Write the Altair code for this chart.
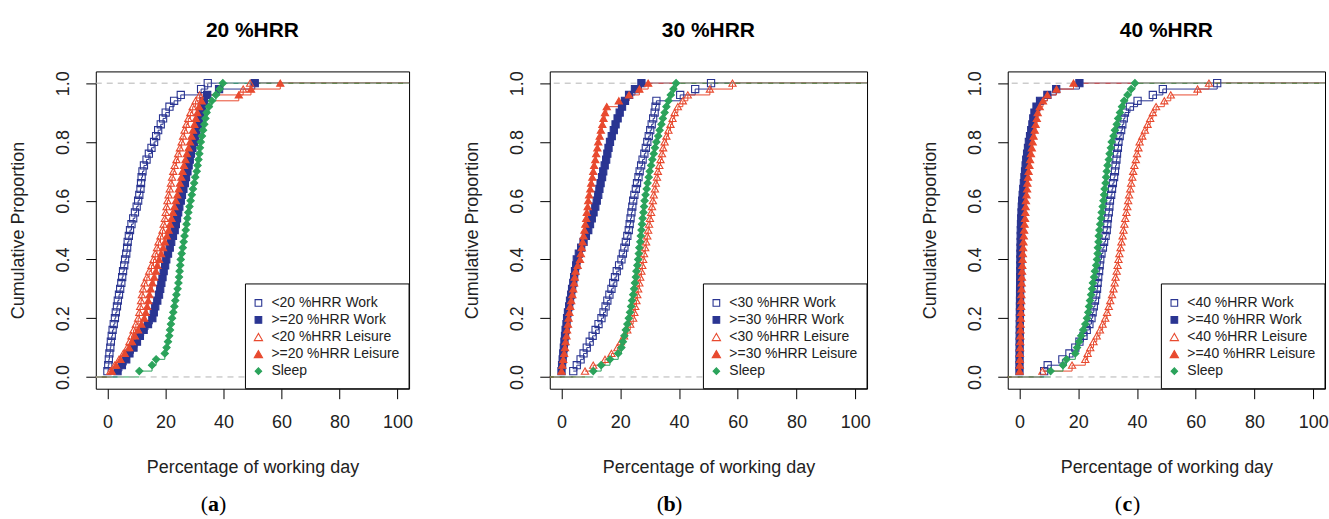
import altair as alt
import pandas as pd

# ---------------- data (percent of working day) ----------------
# Panel (a): 20 %HRR
A_LT_WORK = [0.0, 0.3, 0.5, 0.7, 1.0, 1.2, 1.5, 1.8, 2.2, 2.6,
             2.9, 3.3, 3.6, 4.0, 4.4, 4.8, 5.1, 5.4, 5.8, 6.1,
             6.5, 6.8, 7.0, 7.4, 7.8, 8.3, 8.9, 9.5, 10.1, 10.6,
             11.0, 11.4, 11.6, 11.8, 12.1, 12.6, 13.5, 14.3, 15.2, 16.1,
             16.8, 17.5, 18.4, 19.2, 20.1, 21.4, 23.0, 25.3, 32.3, 34.6]
A_GE_WORK = [3.5, 5.0, 6.5, 7.6, 9.0, 10.2, 11.2, 12.5, 14.0, 15.5,
             16.0, 16.5, 17.2, 17.8, 18.2, 18.6, 19.0, 19.4, 19.9, 20.3,
             20.9, 21.5, 22.0, 22.6, 23.2, 23.6, 24.0, 24.4, 24.8, 25.3,
             25.7, 26.2, 26.7, 27.1, 27.6, 28.0, 28.4, 28.8, 29.3, 29.9,
             30.3, 30.7, 31.2, 31.6, 32.1, 32.6, 33.3, 34.4, 38.5, 50.8]
A_LT_LEIS = [1.0, 2.5, 4.0, 5.5, 6.8, 7.6, 8.3, 9.0, 9.8, 10.6,
             11.0, 11.3, 11.6, 11.9, 12.3, 12.8, 13.6, 14.4, 15.2, 15.9,
             16.5, 17.1, 17.6, 18.3, 19.0, 19.4, 19.8, 20.1, 20.4, 20.7,
             21.1, 21.5, 21.9, 22.3, 22.7, 23.2, 23.8, 24.4, 25.0, 25.6,
             26.1, 26.6, 27.2, 27.9, 28.6, 29.4, 30.4, 31.8, 46.8, 49.2]
A_GE_LEIS = [1.5, 3.0, 4.5, 6.0, 7.5, 8.5, 9.5, 10.6, 11.7, 12.7,
             13.2, 13.7, 14.1, 14.5, 14.9, 15.5, 16.1, 16.7, 17.2, 17.8,
             18.5, 19.2, 19.8, 20.5, 21.1, 21.6, 22.1, 22.6, 23.1, 23.6,
             24.1, 24.6, 25.0, 25.5, 25.9, 26.4, 26.9, 27.4, 28.0, 28.5,
             29.0, 29.5, 30.0, 30.5, 31.0, 31.6, 32.5, 45.3, 49.5, 59.6]
A_SLEEP = [11.0, 15.4, 16.8, 19.8, 20.4, 20.9, 21.3, 21.6, 21.9, 22.3,
           22.7, 23.1, 23.4, 23.8, 24.2, 24.5, 24.7, 24.9, 25.1, 25.3,
           25.6, 26.0, 26.3, 26.6, 27.0, 27.3, 27.6, 27.9, 28.3, 28.7,
           29.1, 29.5, 29.9, 30.3, 30.8, 31.1, 31.4, 31.7, 31.9, 32.2,
           32.6, 33.0, 33.4, 33.8, 34.2, 35.0, 36.0, 37.4, 38.7, 39.8]

# Panel (b): 30 %HRR
B_LT_WORK = [4.0, 5.2, 6.5, 7.5, 8.6, 9.6, 10.6, 11.6, 12.6, 13.6,
             14.3, 15.0, 15.6, 16.3, 17.0, 17.6, 18.2, 18.8, 19.6, 20.4,
             20.9, 21.4, 21.9, 22.4, 22.9, 23.2, 23.5, 23.8, 24.1, 24.4,
             24.8, 25.3, 25.7, 26.2, 26.6, 27.1, 27.6, 28.2, 28.7, 29.2,
             29.7, 30.2, 30.7, 31.2, 31.7, 32.0, 32.3, 40.4, 45.5, 50.9]
B_GE_WORK = [0.0, 0.2, 0.4, 0.6, 0.8, 1.0, 1.2, 1.4, 1.7, 1.9,
             2.2, 2.6, 2.9, 3.3, 3.6, 4.0, 4.3, 4.6, 5.0, 5.2,
             5.9, 6.7, 7.5, 8.3, 9.1, 9.7, 10.3, 10.9, 11.5, 12.0,
             12.5, 12.9, 13.3, 13.8, 14.2, 14.7, 15.2, 15.6, 16.0, 16.5,
             17.1, 17.8, 18.4, 19.1, 19.8, 20.6, 21.6, 23.0, 25.0, 27.2]
B_LT_LEIS = [8.0, 10.8, 14.8, 17.0, 19.0, 20.2, 21.3, 22.4, 23.4, 24.4,
             24.8, 25.1, 25.5, 25.8, 26.1, 26.5, 26.8, 27.2, 27.5, 27.8,
             28.1, 28.5, 28.8, 29.2, 29.5, 29.8, 30.1, 30.5, 30.8, 31.1,
             31.4, 31.8, 32.1, 32.5, 32.8, 33.3, 33.7, 34.2, 34.6, 35.1,
             35.7, 36.4, 37.1, 37.8, 38.5, 39.6, 41.3, 43.0, 50.5, 58.2]
B_GE_LEIS = [0.0, 0.3, 0.6, 0.9, 1.2, 1.4, 1.7, 1.9, 2.2, 2.4,
             2.7, 3.0, 3.3, 3.7, 4.0, 4.3, 4.5, 4.8, 5.5, 6.3,
             6.6, 6.9, 7.2, 7.5, 7.8, 8.1, 8.4, 8.6, 8.9, 9.1,
             9.4, 9.8, 10.1, 10.5, 10.8, 11.1, 11.5, 11.8, 12.2, 12.5,
             13.0, 13.4, 13.9, 14.3, 14.8, 15.4, 19.5, 23.0, 26.5, 29.5]
B_SLEEP = [10.8, 13.5, 16.5, 19.3, 20.4, 20.9, 21.4, 21.9, 22.4, 22.9,
           23.3, 23.7, 24.0, 24.4, 24.7, 25.0, 25.3, 25.5, 25.8, 26.1,
           26.3, 26.5, 26.8, 27.0, 27.2, 27.4, 27.6, 27.9, 28.1, 28.3,
           28.6, 29.0, 29.3, 29.7, 30.0, 30.5, 30.9, 31.4, 31.8, 32.3,
           32.9, 33.4, 34.0, 34.5, 35.1, 35.7, 36.4, 37.2, 38.1, 39.0]

# Panel (c): 40 %HRR
C_LT_WORK = [8.4, 9.6, 14.6, 17.0, 19.0, 20.4, 21.8, 22.9, 23.8, 24.5,
             24.9, 25.3, 25.7, 26.1, 26.4, 26.6, 26.8, 27.1, 27.3, 27.5,
             27.9, 28.4, 28.8, 29.3, 29.7, 29.9, 30.1, 30.4, 30.6, 30.8,
             31.2, 31.5, 31.8, 32.2, 32.5, 32.7, 33.0, 33.2, 33.5, 33.7,
             34.1, 34.6, 35.0, 35.5, 35.9, 37.6, 40.2, 45.4, 48.8, 67.3]
C_GE_WORK = [0.00, 0.01, 0.03, 0.04, 0.06, 0.07, 0.09, 0.11, 0.12, 0.14,
             0.16, 0.17, 0.19, 0.21, 0.22, 0.24, 0.26, 0.28, 0.30, 0.32,
             0.34, 0.37, 0.40, 0.43, 0.46, 0.52, 0.60, 0.70, 0.80, 0.92,
             1.1, 1.3, 1.5, 1.7, 1.9, 2.1, 2.3, 2.6, 2.9, 3.2,
             3.6, 4.0, 4.4, 4.7, 5.1, 5.8, 7.0, 9.5, 12.5, 20.4]
C_LT_LEIS = [7.8, 17.9, 22.4, 23.2, 24.1, 25.2, 26.3, 27.4, 28.3, 29.2,
             29.8, 30.4, 30.9, 31.5, 32.0, 32.4, 32.7, 33.1, 33.4, 33.7,
             34.0, 34.4, 34.7, 35.1, 35.4, 35.7, 36.0, 36.4, 36.7, 37.0,
             37.3, 37.7, 38.0, 38.4, 38.7, 39.1, 39.6, 40.0, 40.5, 40.9,
             41.8, 42.7, 43.6, 44.5, 45.4, 46.5, 49.3, 51.5, 60.6, 64.5]
C_GE_LEIS = [0.05, 0.10, 0.14, 0.18, 0.22, 0.27, 0.31, 0.36, 0.40, 0.46,
             0.51, 0.56, 0.61, 0.66, 0.71, 0.77, 0.84, 0.90, 0.97, 1.05,
             1.15, 1.25, 1.35, 1.48, 1.6, 1.75, 1.9, 2.0, 2.1, 2.2,
             2.4, 2.6, 2.7, 2.9, 3.1, 3.4, 3.6, 3.9, 4.2, 4.5,
             4.8, 5.2, 5.5, 5.9, 6.2, 6.9, 8.0, 9.5, 12.6, 18.4]
C_SLEEP = [10.6, 14.8, 16.0, 19.0, 19.6, 20.3, 21.0, 21.7, 22.4, 23.0,
           23.4, 23.7, 24.0, 24.4, 24.7, 25.0, 25.4, 25.7, 26.1, 26.4,
           26.6, 26.7, 26.9, 27.0, 27.2, 27.5, 27.8, 28.0, 28.3, 28.6,
           28.8, 29.0, 29.3, 29.5, 29.7, 30.0, 30.4, 30.7, 31.1, 31.4,
           32.0, 32.5, 33.1, 33.6, 34.2, 34.9, 35.6, 36.8, 38.0, 39.3]

THRESHOLDS = [20, 30, 40]
TAGS = ["a", "b", "c"]
PANEL_SERIES = [
    [A_LT_WORK, A_GE_WORK, A_LT_LEIS, A_GE_LEIS, A_SLEEP],
    [B_LT_WORK, B_GE_WORK, B_LT_LEIS, B_GE_LEIS, B_SLEEP],
    [C_LT_WORK, C_GE_WORK, C_LT_LEIS, C_GE_LEIS, C_SLEEP],
]
X_TICKS = [0, 20, 40, 60, 80, 100]
Y_TICKS = [0.0, 0.2, 0.4, 0.6, 0.8, 1.0]
REF_LEVELS = [0.0, 1.0]

# ---------------- style ----------------
KINDS = ["lt_work", "ge_work", "lt_leis", "ge_leis", "sleep"]
BLUE = "#2A3592"
RED = "#E84A2F"
GREEN = "#2BA35B"
COLORS = [BLUE, BLUE, RED, RED, GREEN]
FILLS = ["transparent", BLUE, "transparent", RED, GREEN]
SHAPES = ["square", "square", "triangle-up", "triangle-up", "diamond"]
SIZES = [52, 52, 80, 80, 50]
PANEL_WIDTHS = [314, 318, 318]
H = 318
LEG_W, LEG_H = 164, 105
FONT = "Liberation Sans"
INK = "#222222"


def make_panel(thr, tag, W, series):
    labels = [f"<{thr} %HRR Work", f">={thr} %HRR Work",
              f"<{thr} %HRR Leisure", f">={thr} %HRR Leisure", "Sleep"]
    df = pd.DataFrame([{"kind": k, "value": v}
                       for k, vals in zip(KINDS, series) for v in vals])
    xs = alt.Scale(domain=[-4, 104], nice=False, zero=False)
    ys = alt.Scale(domain=[-0.04, 1.04], nice=False, zero=False)
    xax = alt.Axis(values=X_TICKS, grid=False, domain=False, tickSize=10,
                   tickColor="black", labelFont=FONT, labelFontSize=18,
                   labelColor=INK, labelPadding=24, labelBaseline="middle",
                   labelFlush=False, labelOverlap=False,
                   title="Percentage of working day", titleFont=FONT,
                   titleFontSize=18, titleFontWeight="normal", titleColor=INK,
                   titleX=W / 2, titleY=79, titleAlign="center",
                   titleBaseline="middle")
    yax = alt.Axis(values=Y_TICKS, format=".1f", grid=False, domain=False,
                   tickSize=10, tickColor="black", labelFont=FONT,
                   labelFontSize=18, labelColor=INK, labelAngle=270,
                   labelAlign="center", labelBaseline="middle",
                   labelPadding=22, labelFlush=False, labelOverlap=False,
                   title="Cumulative Proportion", titleFont=FONT,
                   titleFontSize=18, titleFontWeight="normal", titleColor=INK,
                   titleX=-77, titleY=H / 2, titleAngle=270,
                   titleAlign="center", titleBaseline="middle")
    col = alt.Scale(domain=KINDS, range=COLORS)

    base = alt.Chart(df)
    ecdf = base.transform_window(
        cum="cume_dist()", sort=[alt.SortField("value", order="ascending")],
        groupby=["kind"])

    left = base.mark_rule(strokeWidth=1).encode(
        x=alt.X("min(value):Q", scale=xs, axis=xax),
        x2=alt.value(0),
        y=alt.YDatum(0, scale=ys, axis=yax),
        color=alt.Color("kind:N", scale=col, legend=None))
    right = base.mark_rule(strokeWidth=1).encode(
        x=alt.X("max(value):Q", scale=xs, axis=xax),
        x2=alt.value(W),
        y=alt.YDatum(1, scale=ys, axis=yax),
        color=alt.Color("kind:N", scale=col, legend=None))
    steps = ecdf.mark_line(interpolate="step-after", strokeWidth=1).encode(
        x=alt.X("value:Q", scale=xs, axis=xax),
        y=alt.Y("cum:Q", scale=ys, axis=yax),
        color=alt.Color("kind:N", scale=col, legend=None))
    hl = alt.Chart(pd.DataFrame({"level": REF_LEVELS})).mark_rule(
        color="#B3B3B3", strokeDash=[6, 5], strokeWidth=1).encode(
        y=alt.Y("level:Q", scale=ys, axis=yax))
    pts = ecdf.mark_point(opacity=1, strokeWidth=1.1).encode(
        x=alt.X("value:Q", scale=xs, axis=xax),
        y=alt.Y("cum:Q", scale=ys, axis=yax),
        stroke=alt.Stroke("kind:N", scale=alt.Scale(domain=KINDS, range=COLORS), legend=None),
        fill=alt.Fill("kind:N", scale=alt.Scale(domain=KINDS, range=FILLS), legend=None),
        shape=alt.Shape("kind:N", scale=alt.Scale(domain=KINDS, range=SHAPES), legend=None),
        size=alt.Size("kind:N", scale=alt.Scale(domain=KINDS, range=SIZES), legend=None))

    lx0, ly0 = W - LEG_W, H - LEG_H
    box = alt.Chart(pd.DataFrame({"b": [0]})).mark_rect(
        fill="white", stroke="black", strokeWidth=1).encode(
        x=alt.value(lx0), x2=alt.value(W), y=alt.value(ly0), y2=alt.value(H))
    legend_layers = []
    for i, lab in enumerate(labels):
        ry = ly0 + 19 + i * 17.1
        row = pd.DataFrame({"label": [lab]})
        legend_layers.append(alt.Chart(row).mark_point(
            shape=SHAPES[i], stroke=COLORS[i], fill=FILLS[i], opacity=1,
            strokeWidth=1.1, size=SIZES[i] * 0.85).encode(
            x=alt.value(lx0 + 13), y=alt.value(ry)))
        legend_layers.append(alt.Chart(row).mark_text(
            align="left", baseline="middle", font=FONT, fontSize=14,
            color=INK).encode(text="label:N", x=alt.value(lx0 + 26), y=alt.value(ry)))

    cx = W / 2 - 39
    ty = H + 116
    tag_df = pd.DataFrame({"o": ["("], "t": [tag], "c": [")"]})
    tag_layers = [
        alt.Chart(tag_df).mark_text(align="right", baseline="middle",
                                    font="Liberation Serif", fontSize=22,
                                    color="black").encode(
            text="o:N", x=alt.value(cx - 5.5), y=alt.value(ty)),
        alt.Chart(tag_df).mark_text(align="center", baseline="middle",
                                    font="Liberation Serif", fontSize=22,
                                    fontWeight="bold", color="black").encode(
            text="t:N", x=alt.value(cx), y=alt.value(ty)),
        alt.Chart(tag_df).mark_text(align="left", baseline="middle",
                                    font="Liberation Serif", fontSize=22,
                                    color="black").encode(
            text="c:N", x=alt.value(cx + 5.5), y=alt.value(ty)),
    ]

    return alt.layer(left, right, steps, hl, pts, box, *legend_layers,
                     *tag_layers).properties(
        width=W, height=H,
        title=alt.TitleParams(text=f"{thr} %HRR", font=FONT, fontSize=21,
                              fontWeight="bold", color="black",
                              anchor="middle", frame="group", offset=30))


panels = [make_panel(t, g, w, s)
          for t, g, w, s in zip(THRESHOLDS, TAGS, PANEL_WIDTHS, PANEL_SERIES)]

chart = alt.hconcat(*panels, spacing=50).properties(
    padding={"left": 9, "top": 18, "right": 0, "bottom": 0},
    background="white",
).configure_view(stroke="black", strokeWidth=1)

chart.save("out.html", embed_options={"renderer": "svg", "actions": False})
